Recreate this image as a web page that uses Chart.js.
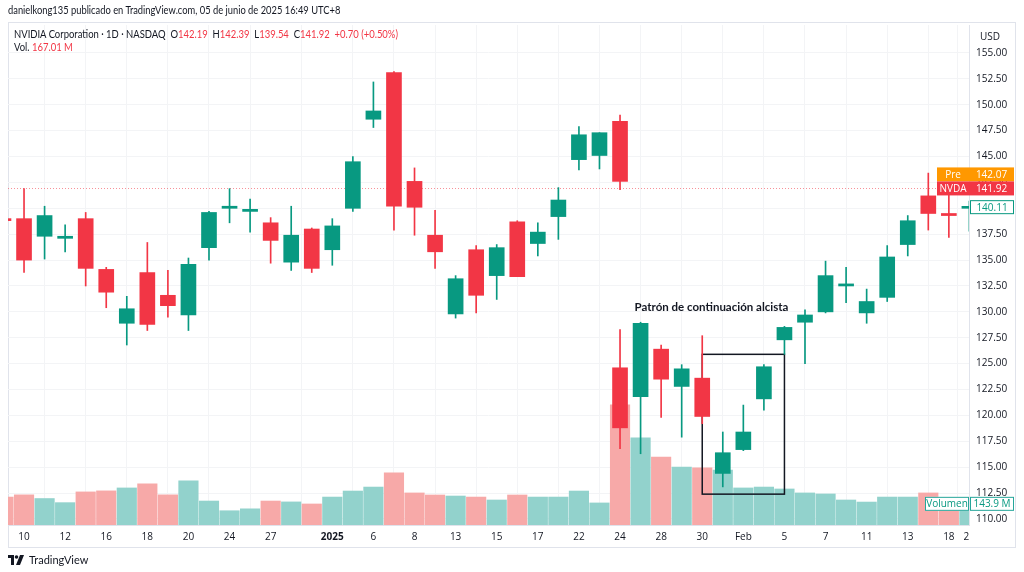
<!DOCTYPE html>
<html>
<head>
<meta charset="utf-8">
<script src="https://cdn.jsdelivr.net/npm/chart.js@4.4.1/dist/chart.umd.min.js"></script>
<style>
  body { margin: 0; background: #fff; font-family: Lato, sans-serif; }
  #wrap { position: relative; width: 1024px; height: 572px; overflow: hidden; }
  #frame { position: absolute; left: 8px; top: 22px; width: 1008px; height: 526px; border: 1px solid #e0e3eb; box-sizing: border-box; }
  canvas { position: absolute; left: 0; top: 0; }
  .txt { position: absolute; white-space: nowrap; font-size: 11px; color: #131722; transform-origin: left center; }
  .red { color: #f23645; }
  #foot { position: absolute; left: 8px; top: 553px; font-size: 11px; color: #131722; display: flex; align-items: center; gap: 5px; }
</style>
</head>
<body>
<div id="wrap">
  <div id="frame"></div>
  <canvas id="chart" width="1024" height="572"></canvas>
  <div class="txt" style="left:8px;top:4px;font-size:10.5px;transform:scaleX(0.89);">danielkong135 publicado en TradingView.com, 05 de junio de 2025 16:49 UTC+8</div>
  <div class="txt" style="left:14px;top:27px;transform:scaleX(0.86);">NVIDIA Corporation · 1D · NASDAQ&nbsp; O<span class="red">142.19</span>&nbsp; H<span class="red">142.39</span>&nbsp; L<span class="red">139.54</span>&nbsp; C<span class="red">141.92</span>&nbsp; <span class="red">+0.70 (+0.50%)</span></div>
  <div class="txt" style="left:14px;top:40px;transform:scaleX(0.86);">Vol. <span class="red">167.01 M</span></div>
  <div class="txt" style="left:980px;top:29px;font-size:10px;font-family:'Open Sans',sans-serif;">USD</div>
  <div id="foot">
    <svg width="16" height="10" viewBox="0 0 16 10"><path d="M0 0h6v10H3V3H0z" fill="#131722"/><circle cx="8.5" cy="2" r="1.8" fill="#131722"/><path d="M12 0h4l-4 10H8z" fill="#131722"/></svg>
    <span>TradingView</span>
  </div>
</div>
<script>
// NVDA daily candles as they appear in the picture
const dates = ['2024-12-09','2024-12-10','2024-12-11','2024-12-12','2024-12-13','2024-12-16','2024-12-17','2024-12-18','2024-12-19','2024-12-20',
  '2024-12-23','2024-12-24','2024-12-26','2024-12-27','2024-12-30','2024-12-31','2025-01-02','2025-01-03','2025-01-06','2025-01-07',
  '2025-01-08','2025-01-10','2025-01-13','2025-01-14','2025-01-15','2025-01-16','2025-01-17','2025-01-21','2025-01-22','2025-01-23',
  '2025-01-24','2025-01-27','2025-01-28','2025-01-29','2025-01-30','2025-01-31','2025-02-03','2025-02-04','2025-02-05','2025-02-06',
  '2025-02-07','2025-02-10','2025-02-11','2025-02-12','2025-02-13','2025-02-14','2025-02-18','2025-02-19','2025-02-20'];
const open  = [138.97,139.0,137.3,137.1,139.0,134.1,128.9,133.8,131.6,129.7, 136.2,140.0,139.7,138.6,134.8,138.0,136.0,140.0,148.6,153.1,
  142.6,137.4,129.8,136.0,133.5,138.7,136.6,139.2,144.7,145.1, 148.4,124.6,121.8,126.4,122.8,123.6,114.4,116.7,121.6,127.3,
  129.0,130.0,132.5,129.9,131.4,136.5,141.2,139.5,140.0];
const high  = [139.95,141.9,140.2,138.4,139.6,134.3,131.5,136.7,134.0,135.2, 139.7,141.9,140.9,139.1,140.2,138.1,139.0,145.0,152.2,153.2,
  143.9,139.8,133.5,136.4,136.5,138.8,138.6,142.0,147.9,147.3, 149.0,128.3,129.0,126.8,124.9,127.7,118.4,121.0,124.9,128.6,
  130.2,134.9,134.3,132.2,136.4,139.3,143.4,141.5,140.7];
const low   = [134.0,133.8,135.1,135.8,132.5,130.4,126.8,128.2,129.5,128.2, 135.0,138.6,137.7,134.7,134.0,133.8,134.5,139.7,147.8,137.9,
  137.4,134.2,129.4,129.9,131.2,133.4,135.4,137.0,143.7,143.8, 141.8,116.8,116.3,119.8,117.9,119.2,113.1,116.6,120.5,125.9,
  125.0,129.9,130.9,128.9,131.0,135.4,137.9,137.2,137.8];
const close = [138.81,135.0,139.3,137.3,134.2,131.9,130.3,128.8,130.6,134.6, 139.6,140.2,139.9,136.9,137.4,134.2,138.3,144.5,149.4,140.2,
  140.1,135.8,133.2,131.6,136.2,133.4,137.7,140.8,147.1,147.3, 142.6,118.8,128.9,123.5,124.5,119.9,116.4,118.4,124.7,128.5,
  129.7,133.5,132.7,131.0,135.3,138.8,139.5,139.3,140.1];
// volume, millions
const volume = [190,205,180,152,225,232,252,280,205,300, 163,97,110,163,157,143,190,231,258,354,
  218,204,197,190,170,204,190,190,231,150, 234,818,592,462,394,388,374,252,258,245,
  218,211,170,156,190,190,218,150,143.9];

// in the picture the candles from Jan 27 on sit one slot to the left
const shiftFrom = dates.indexOf('2025-01-27');
const slots = dates.map((d, i) => i - 1 - (i >= shiftFrom ? 1 : 0));

const tickSlots  = [0, 2, 4, 6, 8, 10, 12, 15, 17, 19, 21, 23, 25, 27, 29, 31, 33, 35, 37, 39, 41, 43, 45, 45.85];
const tickLabels = ['10','12','16','18','20','24','27','2025','6','8','13','15','17','22','24','28','30','Feb','5','7','11','13','18','2'];
const priceTicks = [110, 112.5, 115, 117.5, 120, 122.5, 125, 127.5, 130, 132.5, 135, 137.5, 140, 142.5, 145, 147.5, 150, 152.5, 155];

const lastPrice = 141.92, prePrice = 142.07, lastClose = 140.11, lastVolume = 143.9;
const noteText = 'Patrón de continuación alcista';
const noteAt = { x: 33.45, y: 130.4 };
const box = { x0: 33.0, x1: 37.0, y0: 112.4, y1: 125.9 };

const UP = '#089981', DOWN = '#f23645';
const isUp = open.map((o, i) => close[i] >= o);
const candleColors = isUp.map(u => u ? UP : DOWN);
const volColors = isUp.map(u => u ? '#92d2cc' : '#f7a9a8');

const FONT = '"Open Sans", sans-serif';

function tag(ctx, x, y, w, text, fill, stroke, color) {
  ctx.fillStyle = fill;
  ctx.fillRect(x, y - 7, w, 14);
  if (stroke) {
    ctx.strokeStyle = stroke;
    ctx.lineWidth = 1;
    ctx.strokeRect(x + 0.5, y - 6.5, w - 1, 13);
  }
  ctx.fillStyle = color;
  ctx.textAlign = 'center';
  ctx.textBaseline = 'middle';
  ctx.fillText(text, x + w / 2, y + 0.5);
}

const overlay = {
  id: 'overlay',
  beforeDatasetsDraw(chart) {
    const { ctx, chartArea: a, scales: { y } } = chart;
    const py = Math.round(y.getPixelForValue(lastPrice)) + 0.5;
    ctx.save();
    ctx.strokeStyle = 'rgba(242,54,69,0.55)';
    ctx.setLineDash([1, 2]);
    ctx.beginPath();
    ctx.moveTo(a.left, py);
    ctx.lineTo(a.right, py);
    ctx.stroke();
    ctx.restore();
  },
  afterDatasetDraw(chart, args) {
    if (args.index !== 0) return;
    const { ctx, scales: { x, y } } = chart;
    const l = x.getPixelForValue(box.x0), r = x.getPixelForValue(box.x1);
    const t = y.getPixelForValue(box.y1), b = y.getPixelForValue(box.y0);
    ctx.save();
    ctx.strokeStyle = '#131722';
    ctx.lineWidth = 1.5;
    ctx.strokeRect(l, t, r - l, b - t);
    ctx.restore();
  },
  afterDraw(chart) {
    const { ctx, chartArea: a, scales: { x, y, yv } } = chart;
    ctx.save();
    ctx.font = 'bold 11.5px Lato, sans-serif';
    ctx.fillStyle = '#131722';
    ctx.textAlign = 'center';
    ctx.textBaseline = 'middle';
    ctx.fillText(noteText, x.getPixelForValue(noteAt.x), y.getPixelForValue(noteAt.y));

    ctx.font = '10px ' + FONT;
    const axL = a.right, axW = 45;
    const pY = y.getPixelForValue(lastPrice);
    tag(ctx, axL - 32, pY - 14, 32, 'Pre', '#ff9800', null, '#fff');
    tag(ctx, axL, pY - 14, axW, prePrice.toFixed(2), '#ff9800', null, '#fff');
    tag(ctx, axL - 32, pY, 32, 'NVDA', DOWN, null, '#fff');
    tag(ctx, axL, pY, axW, lastPrice.toFixed(2), DOWN, null, '#fff');
    tag(ctx, axL + 1, y.getPixelForValue(lastClose), axW - 1, lastClose.toFixed(2), '#fff', UP, UP);
    const vY = yv.getPixelForValue(lastVolume);
    tag(ctx, axL - 44, vY, 44, 'Volumen', '#fff', '#26a69a', UP);
    tag(ctx, axL + 1, vY, axW - 1, lastVolume.toFixed(1) + ' M', '#fff', '#26a69a', UP);
    ctx.restore();
  }
};

new Chart(document.getElementById('chart'), {
  type: 'bar',
  data: {
    datasets: [
      {
        label: 'Volumen',
        yAxisID: 'yv',
        data: slots.map((s, i) => ({ x: s, y: volume[i] })),
        backgroundColor: volColors,
        barThickness: 19.5,
        grouped: false,
        order: 3
      },
      {
        label: 'wick',
        yAxisID: 'y',
        data: slots.map((s, i) => ({ x: s, y: [low[i], high[i]] })),
        backgroundColor: candleColors,
        barThickness: 1,
        grouped: false,
        order: 2
      },
      {
        label: 'NVDA',
        yAxisID: 'y',
        data: slots.map((s, i) => ({ x: s, y: [open[i], close[i]] })),
        backgroundColor: candleColors,
        barThickness: 15,
        minBarLength: 2,
        grouped: false,
        order: 1
      }
    ]
  },
  options: {
    responsive: false,
    animation: false,
    layout: { padding: { left: 8, top: 25, right: 8, bottom: 24 } },
    plugins: { legend: { display: false }, tooltip: { enabled: false } },
    scales: {
      x: {
        type: 'linear',
        min: -0.78,
        max: 45.98,
        offset: false,
        afterBuildTicks: axis => { axis.ticks = tickSlots.map(v => ({ value: v })); },
        afterFit: axis => { axis.height = 23; },
        grid: { color: '#f3f4f6', drawTicks: false },
        border: { color: '#e0e3eb' },
        ticks: {
          autoSkip: false,
          maxRotation: 0,
          padding: 6,
          color: '#131722',
          font: ctx => ({ family: FONT, size: 10, weight: ctx.tick && ctx.tick.value === 15 ? 'bold' : 'normal' }),
          callback: v => tickLabels[tickSlots.indexOf(v)]
        }
      },
      y: {
        position: 'right',
        min: 109.42,
        max: 157.7,
        afterBuildTicks: axis => { axis.ticks = priceTicks.map(v => ({ value: v })); },
        afterFit: axis => { axis.width = 47; },
        grid: { color: '#f3f4f6', drawTicks: false },
        border: { color: '#e0e3eb' },
        ticks: {
          padding: 7,
          color: '#131722',
          font: { family: FONT, size: 10 },
          callback: v => v.toFixed(2)
        }
      },
      yv: {
        display: false,
        min: 0,
        max: 3400
      }
    }
  },
  plugins: [overlay]
});
</script>
</body>
</html>
